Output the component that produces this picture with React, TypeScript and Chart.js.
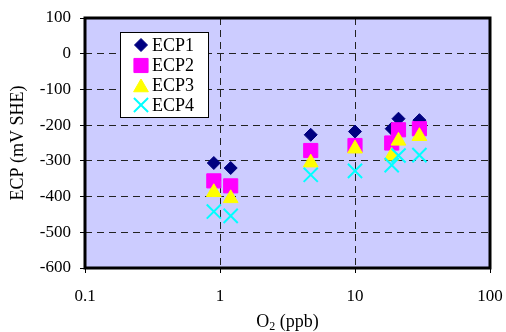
import React, { useEffect, useRef } from "react";
import { Chart, registerables } from "chart.js";
import { drawPoint } from "chart.js/helpers";

Chart.register(...registerables);

const o2Values = [0.9, 1.2, 4.7, 10, 18.7, 21, 30];
const ecp1 = [-306, -320, -227, -218, -210, -182, -186];
const ecp2 = [-356, -370, -271, -257, -250, -213, -210];
const ecp3 = [-388, -405, -305, -266, -286, -244, -231];
const ecp4 = [-442, -454, -339, -328, -312, -285, -284];
const seriesNames = ["ECP1", "ECP2", "ECP3", "ECP4"];
const xTickValues = [0.1, 1, 10, 100];
const yTitle = "ECP (mV SHE)";
const xTitleMain = "O";
const xTitleSub = "2";
const xTitleRest = " (ppb)";

const FONT = "'Liberation Serif', 'Times New Roman', serif";

const styles = [
  { pointStyle: "rectRot", radius: 6.5, color: "#000080", borderWidth: 1 },
  { pointStyle: "rect", radius: 10, color: "#FF00FF", borderWidth: 1 },
  { pointStyle: "triangle", radius: 8.5, color: "#FFFF00", borderWidth: 1 },
  { pointStyle: "crossRot", radius: 10, color: "#00FFFF", borderWidth: 2 },
];

const decorPlugin = {
  id: "decor",
  beforeDraw(chart: any) {
    const { ctx, chartArea: a } = chart;
    ctx.save();
    ctx.fillStyle = "#CCCCFF";
    ctx.fillRect(a.left, a.top, a.right - a.left, a.bottom - a.top);
    ctx.restore();
  },
  afterDraw(chart: any) {
    const { ctx, chartArea: a } = chart;
    ctx.save();
    // border
    ctx.strokeStyle = "#000";
    ctx.lineWidth = 3;
    ctx.setLineDash([]);
    ctx.strokeRect(a.left, a.top, a.right - a.left, a.bottom - a.top);

    // legend
    const lx = 120, ly = 32, lw = 88, lh = 85;
    ctx.fillStyle = "#fff";
    ctx.fillRect(lx, ly, lw, lh);
    ctx.lineWidth = 1;
    ctx.strokeStyle = "#000";
    ctx.strokeRect(lx + 0.5, ly + 0.5, lw, lh);
    const rows = [45, 65.5, 85.5, 105];
    ctx.font = `18px ${FONT}`;
    ctx.textAlign = "left";
    ctx.textBaseline = "middle";
    seriesNames.forEach((name, i) => {
      const s = styles[i];
      ctx.save();
      ctx.fillStyle = s.color;
      ctx.strokeStyle = s.color;
      ctx.lineWidth = s.borderWidth;
      drawPoint(ctx, { pointStyle: s.pointStyle, radius: s.radius, rotation: 0, borderWidth: s.borderWidth }, 141, rows[i] + (s.pointStyle === "triangle" ? 2 : 0));
      ctx.restore();
      ctx.fillStyle = "#000";
      ctx.fillText(name, 152, rows[i] + 1);
    });

    // y title
    ctx.save();
    ctx.translate(18, (a.top + a.bottom) / 2);
    ctx.rotate(-Math.PI / 2);
    ctx.textAlign = "center";
    ctx.textBaseline = "middle";
    ctx.fillStyle = "#000";
    ctx.font = `18px ${FONT}`;
    ctx.fillText(yTitle, 0, 0);
    ctx.restore();

    // x title with subscript
    ctx.fillStyle = "#000";
    ctx.textBaseline = "alphabetic";
    ctx.textAlign = "left";
    const big = `18px ${FONT}`;
    const small = `12px ${FONT}`;
    ctx.font = big;
    const w1 = ctx.measureText(xTitleMain).width;
    const w3 = ctx.measureText(xTitleRest).width;
    ctx.font = small;
    const w2 = ctx.measureText(xTitleSub).width;
    const total = w1 + w2 + w3;
    let x = (a.left + a.right) / 2 - total / 2;
    const base = 327;
    ctx.font = big;
    ctx.fillText(xTitleMain, x, base);
    x += w1;
    ctx.font = small;
    ctx.fillText(xTitleSub, x, base + 3);
    x += w2;
    ctx.font = big;
    ctx.fillText(xTitleRest, x, base);
    ctx.restore();
  },
};

export default function App() {
  const ref = useRef<HTMLCanvasElement | null>(null);
  useEffect(() => {
    document.body.style.margin = "0";
    const canvas = ref.current!;
    const series = [ecp1, ecp2, ecp3, ecp4];
    const chart = new Chart(canvas, {
      type: "scatter",
      data: {
        datasets: series.map((vals, i) => ({
          label: seriesNames[i],
          data: vals.map((v, j) => ({ x: o2Values[j], y: v })),
          pointStyle: styles[i].pointStyle as any,
          pointRadius: styles[i].radius,
          pointBackgroundColor: styles[i].color,
          pointBorderColor: styles[i].color,
          pointBorderWidth: styles[i].borderWidth,
          showLine: false,
          order: 4 - i,
        })),
      },
      options: {
        responsive: false,
        animation: false,
        events: [],
        layout: { padding: { top: 18, right: 16, left: 0, bottom: 0 } },
        plugins: {
          legend: { display: false },
          tooltip: { enabled: false },
        },
        scales: {
          x: {
            type: "logarithmic",
            min: 0.1,
            max: 100,
            afterBuildTicks: (scale: any) => {
              scale.ticks = xTickValues.map((v) => ({ value: v }));
            },
            afterFit: (scale: any) => {
              scale.height = 64;
              scale.paddingLeft = 0;
              scale.paddingRight = 0;
            },
            ticks: {
              autoSkip: false,
              maxRotation: 0,
              padding: 13,
              color: "#000",
              font: { family: FONT, size: 17 },
              callback: (v: any) => String(v),
            },
            grid: {
              color: "#222",
              lineWidth: 1,
              drawTicks: true,
              tickLength: 5,
              tickColor: "#000",
              tickWidth: 1,
            },
            border: { display: false, dash: [7, 5] },
          },
          y: {
            min: -600,
            max: 100,
            afterFit: (scale: any) => {
              scale.width = 85;
              scale.paddingTop = 0;
              scale.paddingBottom = 0;
            },
            ticks: {
              stepSize: 100,
              padding: 9,
              color: "#000",
              font: { family: FONT, size: 17 },
            },
            grid: {
              color: "#222",
              lineWidth: 1,
              drawTicks: true,
              tickLength: 5,
              tickColor: "#000",
              tickWidth: 1,
            },
            border: { display: false, dash: [7, 5] },
          },
        },
      },
      plugins: [decorPlugin],
    });
    return () => chart.destroy();
  }, []);
  return (
    <canvas
      ref={ref}
      width={506}
      height={332}
      style={{ position: "absolute", left: 0, top: 0, display: "block" }}
    />
  );
}
